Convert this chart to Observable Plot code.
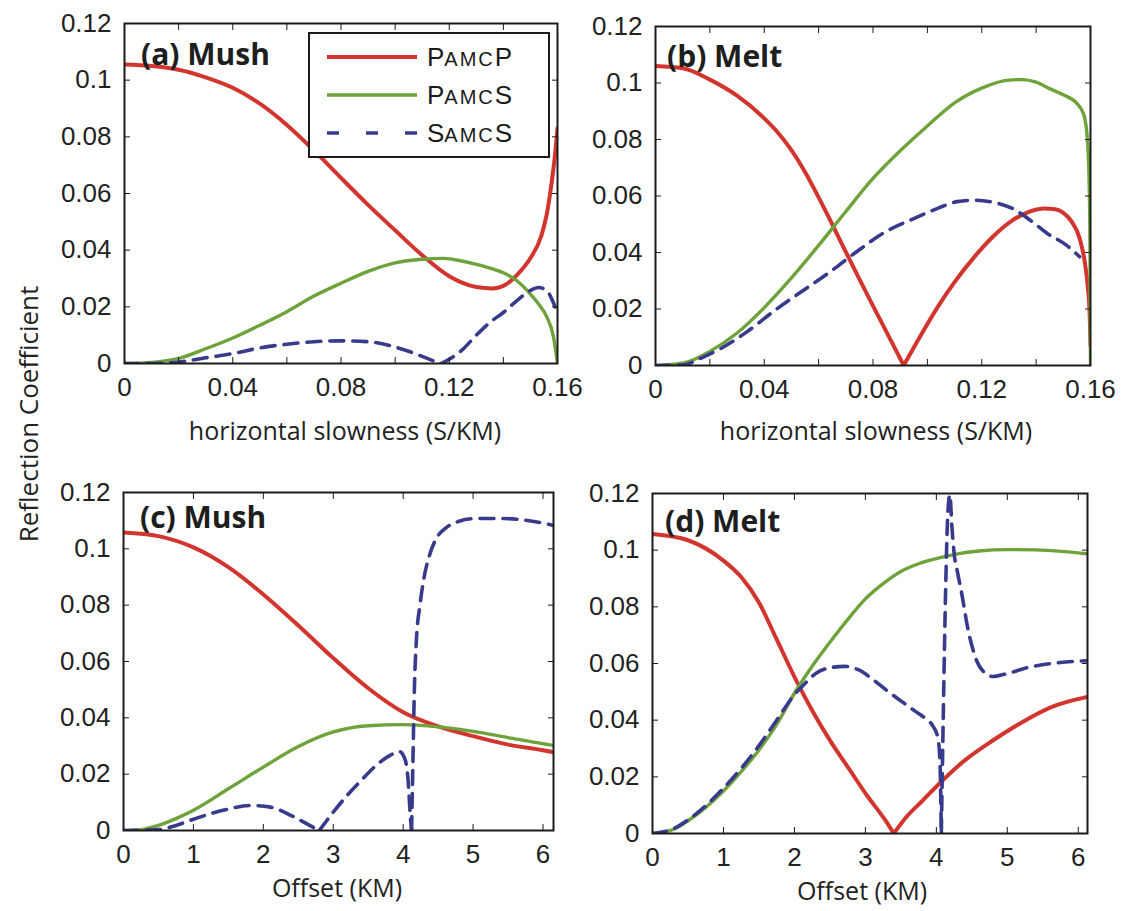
<!DOCTYPE html>
<html>
<head>
<meta charset="utf-8">
<script src="https://cdn.jsdelivr.net/npm/d3@7"></script>
<script src="https://cdn.jsdelivr.net/npm/@observablehq/plot@0.6"></script>
<style>
  html, body { margin: 0; padding: 0; background: #fff; }
  #root { position: relative; width: 1125px; height: 911px; overflow: hidden; background: #fff; }
  #root svg.plotsvg { position: absolute; max-width: none; }
  .ttl { position: absolute; font-family: "Open Sans", "Noto Sans", sans-serif; color: #222;
         white-space: nowrap; line-height: 1; transform: translate(-50%, -50%); }
  .plbl { position: absolute; font-family: "Open Sans", "Noto Sans", sans-serif; font-weight: 700;
          color: #1e1e1e; white-space: nowrap; line-height: 1; transform: translateY(-50%); font-size: 30px; }
</style>
</head>
<body>
<div id="root"></div>
<script>
// ---------- data ----------
const seriesNames = ["PAMCP", "PAMCS", "SAMCS"];
const coefTicks = [0, 0.02, 0.04, 0.06, 0.08, 0.1, 0.12];
const slownessTicks = [0, 0.02, 0.04, 0.06, 0.08, 0.1, 0.12, 0.14, 0.16];
const slownessLabels = [0, 0.04, 0.08, 0.12, 0.16];
const offsetTicks = [0, 1, 2, 3, 4, 5, 6];

// (a) Mush, vs horizontal slowness
const mushSlowPP = [[0,0.1055],[0.01,0.1050],[0.02,0.1037],[0.03,0.1010],[0.04,0.0973],[0.05,0.0917],[0.06,0.0842],[0.07,0.0752],[0.08,0.0655],[0.09,0.0560],[0.10,0.0470],[0.11,0.0382],[0.12,0.0308],[0.13,0.0270],[0.136,0.0265],[0.14,0.0274],[0.145,0.0312],[0.15,0.0372],[0.154,0.0450],[0.156,0.0525],[0.158,0.0650],[0.159,0.0730],[0.16,0.0830]];
const mushSlowPS = [[0,0],[0.01,0.0004],[0.02,0.0018],[0.03,0.0052],[0.04,0.0090],[0.05,0.0135],[0.06,0.0183],[0.07,0.0238],[0.08,0.0283],[0.09,0.0325],[0.10,0.0355],[0.11,0.0368],[0.118,0.0371],[0.125,0.0361],[0.13,0.0350],[0.135,0.0337],[0.14,0.0320],[0.145,0.0292],[0.15,0.0245],[0.153,0.0210],[0.156,0.0165],[0.1585,0.0095],[0.16,0]];
const mushSlowSS = [[0,0],[0.01,0],[0.02,0.0005],[0.025,0.0012],[0.03,0.0020],[0.04,0.0035],[0.05,0.0055],[0.06,0.0068],[0.07,0.0077],[0.08,0.0080],[0.09,0.0077],[0.10,0.0058],[0.105,0.0043],[0.11,0.0025],[0.114,0.0010],[0.117,0],[0.12,0.0015],[0.125,0.0050],[0.13,0.0100],[0.135,0.0145],[0.14,0.0180],[0.145,0.0222],[0.15,0.0258],[0.153,0.0268],[0.156,0.0258],[0.158,0.0225],[0.16,0.0178]];

// (b) Melt, vs horizontal slowness
const meltSlowPP = [[0,0.1060],[0.01,0.1052],[0.02,0.1012],[0.03,0.0955],[0.04,0.0875],[0.045,0.0825],[0.05,0.0762],[0.055,0.0685],[0.06,0.0595],[0.065,0.0500],[0.07,0.0402],[0.075,0.0306],[0.08,0.0211],[0.085,0.0118],[0.0913,0],[0.0976,0.0107],[0.104,0.0210],[0.11,0.0295],[0.1176,0.0388],[0.124,0.0455],[0.131,0.0512],[0.1376,0.0545],[0.143,0.0556],[0.147,0.0553],[0.150,0.0540],[0.153,0.0510],[0.156,0.0450],[0.158,0.0360],[0.159,0.0280],[0.1597,0.0180],[0.16,0.0070]];
const meltSlowPS = [[0,0],[0.01,0.0008],[0.02,0.0050],[0.03,0.0115],[0.04,0.0205],[0.05,0.0310],[0.06,0.0425],[0.07,0.0545],[0.08,0.0662],[0.09,0.0760],[0.10,0.0848],[0.11,0.0930],[0.12,0.0982],[0.13,0.1010],[0.135,0.1012],[0.14,0.1003],[0.145,0.0980],[0.15,0.0958],[0.155,0.0928],[0.157,0.0900],[0.158,0.0870],[0.159,0.0780],[0.1595,0.0650],[0.1598,0.0450],[0.16,0]];
const meltSlowSS = [[0,0],[0.01,0.0002],[0.0176,0.0030],[0.024,0.0060],[0.0336,0.0119],[0.044,0.0196],[0.055,0.0270],[0.064,0.0330],[0.0736,0.0400],[0.084,0.0470],[0.095,0.0520],[0.104,0.0557],[0.111,0.0580],[0.1176,0.0585],[0.124,0.0578],[0.131,0.0557],[0.1376,0.0516],[0.144,0.0468],[0.151,0.0427],[0.156,0.0385]];

// (c) Mush, vs offset
const mushOffPP = [[0,0.1058],[0.5,0.1045],[1.0,0.1005],[1.5,0.0935],[2.0,0.0838],[2.5,0.0728],[3.0,0.0612],[3.5,0.0505],[4.0,0.0420],[4.5,0.0370],[5.0,0.0335],[5.5,0.0305],[6.0,0.0285],[6.15,0.0278]];
const mushOffPS = [[0,0],[0.25,0.0003],[0.5,0.0018],[0.75,0.0042],[1.0,0.0072],[1.5,0.0148],[2.0,0.0225],[2.5,0.0298],[3.0,0.0350],[3.5,0.0372],[4.0,0.0376],[4.5,0.0368],[5.0,0.0352],[5.5,0.0330],[6.0,0.0308],[6.15,0.0302]];
const mushOffSS = [[0,0],[0.5,0.0003],[0.75,0.0018],[1.0,0.0040],[1.25,0.0060],[1.5,0.0076],[1.8,0.0089],[2.1,0.0083],[2.4,0.0053],[2.65,0.0020],[2.8,0],[3.0,0.0065],[3.2,0.0125],[3.4,0.0178],[3.6,0.0228],[3.8,0.0265],[3.95,0.0280],[4.03,0.0250],[4.07,0.0180],[4.1,0.0060],[4.12,0],[4.14,0.0250],[4.16,0.0500],[4.19,0.0680],[4.24,0.0800],[4.30,0.0900],[4.38,0.0980],[4.47,0.1035],[4.6,0.1072],[4.8,0.1098],[5.0,0.1107],[5.4,0.1108],[5.8,0.1100],[6.15,0.1083]];

// (d) Melt, vs offset
const meltOffPP = [[0,0.1057],[0.5,0.1035],[1.0,0.0963],[1.25,0.0905],[1.5,0.0815],[1.75,0.0685],[2.05,0.0528],[2.26,0.0430],[2.51,0.0325],[2.77,0.0228],[3.02,0.0135],[3.28,0.0047],[3.4,0],[3.58,0.0059],[3.79,0.0112],[4.09,0.0188],[4.4,0.0258],[4.8,0.0329],[5.21,0.0393],[5.62,0.0446],[6.13,0.0482]];
const meltOffPS = [[0,0],[0.3,0.0015],[0.5,0.0045],[0.75,0.0092],[1.0,0.0150],[1.25,0.0218],[1.5,0.0295],[1.75,0.0385],[2.0,0.0495],[2.25,0.0590],[2.5,0.0675],[2.75,0.0755],[3.0,0.0828],[3.25,0.0882],[3.5,0.0925],[3.75,0.0952],[4.0,0.0970],[4.3,0.0987],[4.6,0.0997],[5.0,0.1002],[5.4,0.1001],[5.8,0.0995],[6.13,0.0987]];
const meltOffSS = [[0,0],[0.3,0.0017],[0.5,0.0048],[0.75,0.0098],[1.0,0.0160],[1.25,0.0230],[1.5,0.0310],[1.75,0.0400],[2.0,0.0490],[2.15,0.0530],[2.3,0.0565],[2.5,0.0585],[2.7,0.0590],[2.9,0.0578],[3.1,0.0545],[3.3,0.0505],[3.5,0.0468],[3.7,0.0432],[3.85,0.0405],[3.95,0.0380],[4.02,0.0340],[4.05,0.0260],[4.07,0],[4.10,0.0450],[4.13,0.0850],[4.16,0.1120],[4.19,0.1195],[4.22,0.1080],[4.25,0.0990],[4.30,0.0920],[4.35,0.0857],[4.45,0.0716],[4.55,0.0622],[4.7,0.0564],[4.8,0.0554],[4.96,0.0562],[5.31,0.0587],[5.82,0.0605],[6.13,0.0610]];

// ---------- styling ----------
const RED = "#d2352e", GREEN = "#6ea23b", BLUE = "#383b8b", INK = "#1b1b1b";
const fmtNum = d => String(+d.toFixed(2));
const blank = () => "";

// split a series into smooth pieces at interior zero-touching cusps
function pieces(pts) {
  const out = [];
  let seg = 0;
  pts.forEach((p, i) => {
    out.push({x: p[0], y: p[1], seg});
    if (p[1] === 0 && i > 0 && i < pts.length - 1 && pts[i - 1][1] > 0 && pts[i + 1][1] > 0) {
      seg++;
      out.push({x: p[0], y: p[1], seg});
    }
  });
  return out;
}

function panel(cfg) {
  const lineOpts = {x: "x", y: "y", z: "seg", curve: "monotone-x", clip: true};
  const svg = Plot.plot({
    width: cfg.w, height: cfg.h,
    marginLeft: cfg.ml, marginRight: cfg.mr, marginTop: cfg.mt, marginBottom: cfg.mb,
    x: {domain: cfg.xDomain},
    y: {domain: [0, 0.12]},
    style: {background: "transparent", fontFamily: "'Liberation Sans', Arial, sans-serif", fontSize: "26px", color: "#222", overflow: "visible"},
    marks: [
      Plot.line(pieces(cfg.pp), {...lineOpts, stroke: RED, strokeWidth: 4}),
      Plot.line(pieces(cfg.ps), {...lineOpts, stroke: GREEN, strokeWidth: 3.4}),
      Plot.line(pieces(cfg.ss), {...lineOpts, stroke: BLUE, strokeWidth: 3.6, strokeDasharray: "14 9"}),
      Plot.frame({stroke: INK, strokeWidth: 2}),
      Plot.axisY(coefTicks, {anchor: "left", tickSize: 0, tickPadding: 13, tickFormat: fmtNum, label: null, fontSize: 26}),
      Plot.axisY(coefTicks, {anchor: "left", tickSize: -6, tickFormat: blank, label: null, stroke: INK}),
      Plot.axisY(coefTicks, {anchor: "right", tickSize: -6, tickFormat: blank, label: null, stroke: INK}),
      Plot.axisX(cfg.xLabels, {anchor: "bottom", tickSize: 0, tickPadding: 14, tickFormat: fmtNum, label: null, fontSize: 26}),
      Plot.axisX(cfg.xTicks, {anchor: "bottom", tickSize: -6, tickFormat: blank, label: null, stroke: INK}),
      Plot.axisX(cfg.xTicks, {anchor: "top", tickSize: -6, tickFormat: blank, label: null, stroke: INK})
    ]
  });
  svg.classList.add("plotsvg");
  svg.style.left = cfg.left + "px";
  svg.style.top = cfg.top + "px";
  return svg;
}

const root = document.getElementById("root");
root.appendChild(panel({left: 0, top: 0, w: 600, h: 450, ml: 124, mr: 43, mt: 23, mb: 87,
  xDomain: [0, 0.16], xTicks: slownessTicks, xLabels: slownessLabels, pp: mushSlowPP, ps: mushSlowPS, ss: mushSlowSS}));
root.appendChild(panel({left: 560, top: 0, w: 565, h: 450, ml: 95, mr: 35, mt: 26, mb: 85,
  xDomain: [0, 0.16], xTicks: slownessTicks, xLabels: slownessLabels, pp: meltSlowPP, ps: meltSlowPS, ss: meltSlowSS}));
root.appendChild(panel({left: 0, top: 450, w: 600, h: 461, ml: 123, mr: 47, mt: 42, mb: 81,
  xDomain: [0, 6.15], xTicks: offsetTicks, xLabels: offsetTicks, pp: mushOffPP, ps: mushOffPS, ss: mushOffSS}));
root.appendChild(panel({left: 560, top: 450, w: 565, h: 461, ml: 92, mr: 38, mt: 43, mb: 78,
  xDomain: [0, 6.13], xTicks: offsetTicks, xLabels: offsetTicks, pp: meltOffPP, ps: meltOffPS, ss: meltOffSS}));

// ---------- text overlays ----------
function addDiv(cls, text, left, top, extra) {
  const d = document.createElement("div");
  d.className = cls;
  d.textContent = text;
  d.style.left = left + "px";
  d.style.top = top + "px";
  if (extra) Object.assign(d.style, extra);
  root.appendChild(d);
  return d;
}
addDiv("ttl", "horizontal slowness (S/KM)", 345, 430, {fontSize: "25px"});
addDiv("ttl", "horizontal slowness (S/KM)", 876, 430, {fontSize: "25px"});
addDiv("ttl", "Offset (KM)", 337, 887, {fontSize: "25px"});
addDiv("ttl", "Offset (KM)", 862, 890, {fontSize: "25px"});
addDiv("ttl", "Reflection Coefficient", 28, 414, {fontSize: "26px", transform: "translate(-50%, -50%) rotate(-90deg)"});
addDiv("plbl", "(a) Mush", 141, 54);
addDiv("plbl", "(b) Melt", 667, 56);
addDiv("plbl", "(c) Mush", 140, 517);
addDiv("plbl", "(d) Melt", 665, 521);

// ---------- legend ----------
const legendColors = [RED, GREEN, BLUE];
const legendDash = [null, null, "12 27"];
const legendWidth = [4, 3.4, 3.6];
const ns = "http://www.w3.org/2000/svg";
const leg = document.createElementNS(ns, "svg");
leg.setAttribute("width", 242); leg.setAttribute("height", 126);
leg.style.position = "absolute"; leg.style.left = "308px"; leg.style.top = "32px";
const rect = document.createElementNS(ns, "rect");
Object.entries({x: 1, y: 1, width: 240, height: 124, fill: "#fff", stroke: INK, "stroke-width": 2}).forEach(([k, v]) => rect.setAttribute(k, v));
leg.appendChild(rect);
seriesNames.forEach((name, i) => {
  const cy = 25 + i * 38;
  const ln = document.createElementNS(ns, "line");
  Object.entries({x1: 19, x2: 109, y1: cy, y2: cy, stroke: legendColors[i], "stroke-width": legendWidth[i]}).forEach(([k, v]) => ln.setAttribute(k, v));
  if (legendDash[i]) ln.setAttribute("stroke-dasharray", legendDash[i]);
  leg.appendChild(ln);
  const t = document.createElementNS(ns, "text");
  t.setAttribute("x", 119); t.setAttribute("y", cy + 9);
  t.setAttribute("font-family", "'Liberation Sans', Arial, sans-serif");
  t.setAttribute("font-size", 26); t.setAttribute("fill", "#1b1b1b");
  const first = name[0], mid = name.slice(1, 4), last = name.slice(4);
  t.appendChild(document.createTextNode(first));
  const ts = document.createElementNS(ns, "tspan");
  ts.setAttribute("font-size", 20); ts.setAttribute("letter-spacing", 2);
  ts.textContent = mid;
  t.appendChild(ts);
  t.appendChild(document.createTextNode(last));
  leg.appendChild(t);
});
root.appendChild(leg);
</script>
</body>
</html>
